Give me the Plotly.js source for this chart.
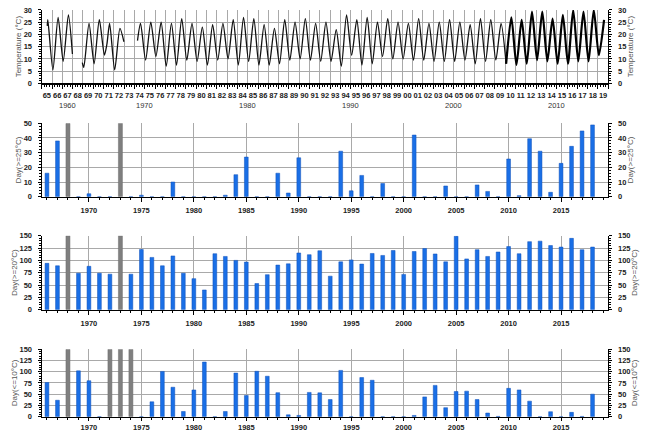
<!DOCTYPE html>
<html>
<head>
<meta charset="utf-8">
<script src="https://cdn.plot.ly/plotly-3.0.1.min.js"></script>
<style>html,body{margin:0;padding:0;background:#fff;}#chart{width:653px;height:434px;}</style>
</head>
<body>
<div id="chart"></div>
<script>
// ---------- DATA ----------
// Top panel: seasonal extremes of water temperature (°C)
const earlyDates = ['1965-07-15','1965-08-05','1966-02-01','1966-08-05','1967-02-01','1967-08-05','1967-12-25',
  '1968-06-01','1968-12-10','1969-02-01','1969-08-05','1970-02-01','1970-08-05','1971-02-01','1971-05-01','1971-08-05',
  '1972-02-01','1972-08-05','1972-12-25','1973-06-01','1974-04-20','1974-08-05'];
const earlyTemps = [23.5,26,5.5,27,9,28,12,
  null,8.5,6.5,24.5,8,26,11.5,16,24.5,
  5.5,22.5,17,null,17.5,24.5];
const cycleYears = [1975,1976,1977,1978,1979,1980,1981,1982,1983,1984,1985,1986,1987,1988,1989,1990,1991,1992,1993,1994,
  1995,1996,1997,1998,1999,2000,2001,2002,2003,2004,2005,2006,2007,2008,2009,2010,2011,2012,2013,2014,2015,2016,2017,2018,2019];
const winterLow = [9.5,11,7,7.5,9.5,9,7.5,9.5,10,7.5,9,7.5,7.5,8,9.5,10,9.5,9,9,7,
  11.5,7.5,8,11,10,10,9.5,9.5,9,9,9,9.5,8,9,9.5,8,7.5,8,9.5,9,8,8,9,9,11.5];
const summerHigh = [25,25,24.5,26.5,24.5,23,24,24.5,26,27,26.5,24,22.5,26,25,26.5,24.5,25,22,28,
  26,27,25,26.5,25,24.5,26.5,24.5,25,26,25,24,26.5,26,24.5,27,26,29.3,29.3,26.5,28,30,29.3,30,26];

const shortYearLabels = ['65','66','67','68','69','70','71','72','73','74','75','76','77','78','79','80','81','82','83','84',
  '85','86','87','88','89','90','91','92','93','94','95','96','97','98','99','00','01','02','03','04','05','06','07','08','09',
  '10','11','12','13','14','15','16','17','18','19'];
const labelYears = [1965,1966,1967,1968,1969,1970,1971,1972,1973,1974,1975,1976,1977,1978,1979,1980,1981,1982,1983,1984,
  1985,1986,1987,1988,1989,1990,1991,1992,1993,1994,1995,1996,1997,1998,1999,2000,2001,2002,2003,2004,2005,2006,2007,2008,2009,
  2010,2011,2012,2013,2014,2015,2016,2017,2018,2019];
const decadeLabels = ['1960','1970','1980','1990','2000','2010'];
const decadeCenters = ['1967-07-01','1975-01-01','1985-01-01','1995-01-01','2005-01-01','2015-01-01'];

// Bar panels
const years = [1966,1967,1968,1969,1970,1971,1972,1973,1974,1975,1976,1977,1978,1979,1980,1981,1982,1983,1984,1985,
  1986,1987,1988,1989,1990,1991,1992,1993,1994,1995,1996,1997,1998,1999,2000,2001,2002,2003,2004,2005,
  2006,2007,2008,2009,2010,2011,2012,2013,2014,2015,2016,2017,2018];
const days25 = [16,38,null,0,2,0,0,null,0,1,0,0,10,0,0,0,0,1,15,27,
  0,0,16,2.5,26.5,0,0,0,31,4,14.5,0,9,0,0,42,0,0,7.3,0,
  0,8,3.6,0,25.7,0.7,39.5,31,3,22.7,34.3,44.8,48.9];
const days20 = [94,89,null,74,88,74,72,null,72,122,106,89,109,74,63,40,113.5,108,100,96.6,
  53,71,90.5,93,115,111.5,119.5,68,97,101,92.5,114,110,120,71.6,118,124,113,97,149,
  103,121.6,108,117,128,113.5,138,139,130,127,144.6,121.6,127];
const days10 = [76,36.5,null,102,80,0,null,null,null,0,33,100.7,65.5,11.5,59.5,121.6,0,11.5,97,47.3,
  101,90,53.4,4,2.7,54,53,38,103,0,87,81,0,0,0,2.7,44,69.6,20,56,
  56.8,38,8,0.5,63,59.5,34.5,0,11,0,9.5,0.5,50];
const missing25 = [1968,1973], missing20 = [1968,1973], missing10 = [1968,1972,1973,1974];

// ---------- BUILD ----------
const tempDates = earlyDates.slice(), tempVals = earlyTemps.slice();
cycleYears.forEach((y,i)=>{ tempDates.push(y+'-02-01'); tempVals.push(winterLow[i]);
  tempDates.push(y+'-08-05'); tempVals.push(summerHigh[i]); });
const splitIdx = tempDates.indexOf('2010-02-01');

const BLUE = '#1a6fe6', GRAY = '#7f7f7f', GRID = '#a9a9a9';
const FF = 'Liberation Sans, Arial, sans-serif';
const tickFont = {family: FF, size: 7.5, color: '#222', weight: 'bold'};
const titleFont = {family: FF, size: 8, color: '#555'};
const XD = [0.0639, 0.9315];

const traces = [
  {type:'scatter', mode:'lines', x:tempDates.slice(0, splitIdx+1), y:tempVals.slice(0, splitIdx+1), xaxis:'x', yaxis:'y',
   line:{color:'#111', width:1.3, shape:'spline', smoothing:0.7}, connectgaps:false, hoverinfo:'skip'},
  {type:'scatter', mode:'lines', x:tempDates.slice(splitIdx), y:tempVals.slice(splitIdx), xaxis:'x', yaxis:'y',
   line:{color:'#000', width:2.2, shape:'spline', smoothing:0.7}, hoverinfo:'skip'},
  {type:'scatter', mode:'markers', x:[], y:[], xaxis:'x5', yaxis:'y', hoverinfo:'skip'}
];
function barPair(vals, miss, full, xa, ya) {
  traces.push({type:'bar', x:years, y:vals, xaxis:xa, yaxis:ya, width:0.36,
    marker:{color:BLUE, line:{color:'#0c4fb8', width:0.5}}});
  traces.push({type:'bar', x:miss, y:miss.map(()=>full), xaxis:xa, yaxis:ya, width:0.38,
    marker:{color:GRAY, line:{color:'#6a6a6a', width:0.5}}});
}
barPair(days25, missing25, 50, 'x2', 'y2');
barPair(days20, missing20, 150, 'x3', 'y3');
barPair(days10, missing10, 150, 'x4', 'y4');

function barX(anchor, tl, so) {
  return {domain:XD, anchor:anchor, range:[1965.5, 2019.5], tickmode:'linear', tick0:1970, dtick:5,
    ticks:'outside', ticklen:tl, tickcolor:'#000', showgrid:true, gridcolor:GRID, gridwidth:1,
    showline:true, linecolor:'#000', linewidth:1.2, zeroline:false, tickfont:tickFont, ticklabelstandoff:so,
    minor:{tickmode:'linear', tick0:1965, dtick:1, ticks:'outside', ticklen:2, tickcolor:'#000', showgrid:false}};
}
function leftY(dom, anchor, range, dtick, mdt, title) {
  return {domain:dom, anchor:anchor, range:range, dtick:dtick, ticks:'outside', ticklen:3, tickcolor:'#000',
    showgrid:true, gridcolor:GRID, showline:true, linecolor:'#000', linewidth:1.2, zeroline:false,
    tickfont:tickFont, ticklabelstandoff:4, title:{text:title, font:titleFont, standoff:0},
    minor:{dtick:mdt, ticks:'outside', ticklen:2, tickcolor:'#000', showgrid:false}};
}
function rightY(over, anchor, range, dtick, mdt, title) {
  return {overlaying:over, side:'right', anchor:anchor, range:range, dtick:dtick, ticks:'outside', ticklen:3,
    tickcolor:'#000', showgrid:false, showline:true, linecolor:'#000', linewidth:1.2, zeroline:false,
    tickfont:tickFont, ticklabelstandoff:4, title:{text:title, font:titleFont, standoff:0},
    minor:{dtick:mdt, ticks:'outside', ticklen:2, tickcolor:'#000', showgrid:false}};
}

const D1 = [0.808, 0.977], D2 = [0.5468, 0.7159], D3 = [0.2864, 0.4569], D4 = [0.040, 0.1952];

const layout = {
  width:653, height:434, margin:{l:0, r:0, t:0, b:0}, paper_bgcolor:'#fff', plot_bgcolor:'#fff',
  showlegend:false, barmode:'overlay', font:{family:FF},
  xaxis:{domain:XD, anchor:'y', type:'date', range:['1965-01-01','2020-01-01'], dtick:'M12', tick0:'1965-01-01',
    showticklabels:false, ticks:'outside', ticklen:4, tickcolor:'#000', showgrid:true, gridcolor:GRID,
    showline:true, linecolor:'#000', linewidth:1.5, zeroline:false,
    minor:{dtick:'M3', ticks:'outside', ticklen:2, tickcolor:'#000', showgrid:false}},
  xaxis5:{overlaying:'x', anchor:'y', side:'bottom', type:'date', range:['1965-01-01','2020-01-01'],
    tickmode:'array', tickvals:labelYears.map(y=>y+'-07-02'), ticktext:shortYearLabels, ticks:'', tickangle:0,
    showgrid:false, showline:false, zeroline:false, tickfont:tickFont, ticklabelstandoff:6},
  yaxis:leftY(D1, 'x', [0,30], 5, 1, 'Temperature (°C)'),
  yaxis5:rightY('y', 'x', [0,30], 5, 1, 'Temperature (°C)'),
  xaxis2:barX('y2', 4, 2), xaxis3:barX('y3', 4, 2), xaxis4:barX('y4', 3, 0),
  yaxis2:leftY(D2, 'x2', [0,50], 10, 2, 'Day(>=25°C)'),
  yaxis6:rightY('y2', 'x2', [0,50], 10, 2, 'Day(>=25°C)'),
  yaxis3:leftY(D3, 'x3', [0,150], 25, 5, 'Day(>=20°C)'),
  yaxis7:rightY('y3', 'x3', [0,150], 25, 5, 'Day(>=20°C)'),
  yaxis4:leftY(D4, 'x4', [0,150], 25, 5, 'Day(<=10°C)'),
  yaxis8:rightY('y4', 'x4', [0,150], 25, 5, 'Day(<=10°C)'),
  annotations: decadeLabels.map((t,i)=>({text:t, x:decadeCenters[i], xref:'x', y:1-105/434, yref:'paper',
    showarrow:false, xanchor:'center', yanchor:'middle', font:{family:FF, size:7.5, color:'#333'}}))
};
traces.push({type:'scatter', mode:'markers', x:[], y:[], xaxis:'x', yaxis:'y5', hoverinfo:'skip'});
traces.push({type:'bar', x:[], y:[], xaxis:'x2', yaxis:'y6'});
traces.push({type:'bar', x:[], y:[], xaxis:'x3', yaxis:'y7'});
traces.push({type:'bar', x:[], y:[], xaxis:'x4', yaxis:'y8'});

Plotly.newPlot('chart', traces, layout, {staticPlot:true, displayModeBar:false});
</script>
</body>
</html>
